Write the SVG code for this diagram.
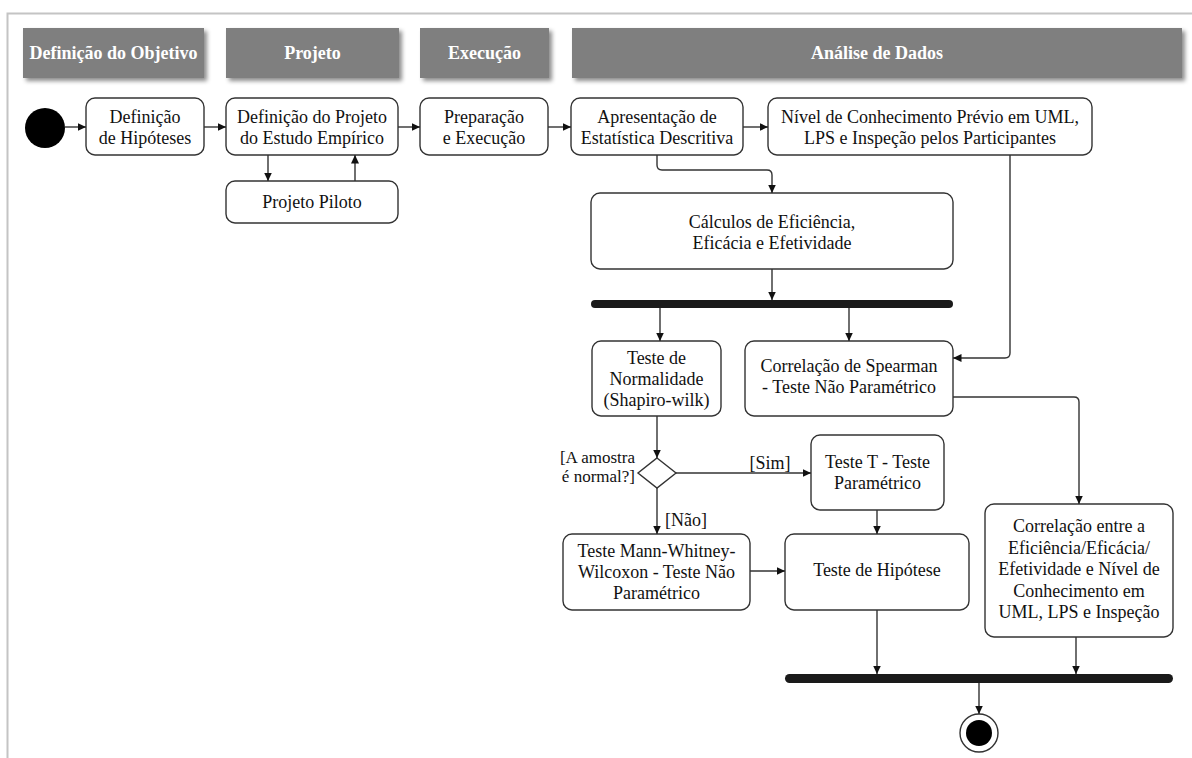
<svg xmlns="http://www.w3.org/2000/svg" width="1192" height="758" viewBox="0 0 1192 758">
  <style>
    .frame { stroke: #c4c4c4; stroke-width: 2; fill: none; }
    .hdr rect { fill: #7f7f7f; filter: url(#shadow); }
    .hdr text { fill: #ffffff; font-family: "Liberation Serif", "Times New Roman", serif; font-weight: bold; font-size: 18px; text-anchor: middle; }
    .node rect { fill: #ffffff; stroke: #333333; stroke-width: 1.4; }
    .node text, .lbl { fill: #111111; font-family: "Liberation Serif", "Times New Roman", serif; font-size: 18px; text-anchor: middle; }
    .lbl.small { font-size: 17px; }
    .bar { fill: #1a1a1a; }
    #connectors path { fill: none; stroke: #333333; stroke-width: 1.4; marker-end: url(#arrow); }
  </style>
  <defs>
    <filter id="shadow" x="-5%" y="-20%" width="115%" height="150%">
      <feDropShadow dx="3" dy="3" stdDeviation="2" flood-color="#000000" flood-opacity="0.45"/>
    </filter>
    <marker id="arrow" markerUnits="userSpaceOnUse" markerWidth="9" markerHeight="8" refX="8.5" refY="4" orient="auto">
      <path d="M0,0 L8.5,4 L0,8 z" fill="#111111"/>
    </marker>
  </defs>

  <rect width="1192" height="758" fill="#ffffff"/>
  <!-- frame -->
  <path class="frame" d="M7.5,758 V13.5 H1192"/>

  <!-- swimlane headers -->
  <g id="lane-objetivo" class="hdr">
    <rect x="23" y="28" width="181" height="50"/>
    <text x="113.5" y="59">Definição do Objetivo</text>
  </g>
  <g id="lane-projeto" class="hdr">
    <rect x="226" y="28" width="173" height="50"/>
    <text x="312.5" y="59">Projeto</text>
  </g>
  <g id="lane-execucao" class="hdr">
    <rect x="420" y="28" width="129" height="50"/>
    <text x="484.5" y="59">Execução</text>
  </g>
  <g id="lane-analise" class="hdr">
    <rect x="572" y="28" width="610" height="50"/>
    <text x="877" y="59">Análise de Dados</text>
  </g>

  <!-- start / end -->
  <g id="start">
    <circle cx="45" cy="128" r="20" fill="#000000"/>
  </g>
  <g id="end">
    <circle cx="979" cy="733" r="19" fill="#ffffff" stroke="#333333" stroke-width="1.4"/>
    <circle cx="979" cy="733" r="13" fill="#000000"/>
  </g>

  <!-- activities -->
  <g id="definicao-hipoteses" class="node">
    <rect x="86" y="98" width="118" height="57" rx="9"/>
    <text x="145" y="123">Definição</text>
    <text x="145" y="144">de Hipóteses</text>
  </g>
  <g id="definicao-projeto" class="node">
    <rect x="226" y="98" width="172" height="57" rx="9"/>
    <text x="312" y="123">Definição do Projeto</text>
    <text x="312" y="144">do Estudo Empírico</text>
  </g>
  <g id="projeto-piloto" class="node">
    <rect x="226" y="181" width="172" height="42" rx="9"/>
    <text x="312" y="208">Projeto Piloto</text>
  </g>
  <g id="preparacao-execucao" class="node">
    <rect x="420" y="98" width="128" height="57" rx="9"/>
    <text x="484" y="123">Preparação</text>
    <text x="484" y="144">e Execução</text>
  </g>
  <g id="estatistica-descritiva" class="node">
    <rect x="571" y="98" width="172" height="57" rx="9"/>
    <text x="657" y="123">Apresentação de</text>
    <text x="657" y="144">Estatística Descritiva</text>
  </g>
  <g id="conhecimento-previo" class="node">
    <rect x="768" y="98" width="324" height="57" rx="9"/>
    <text x="930" y="123">Nível de Conhecimento Prévio em UML,</text>
    <text x="930" y="144">LPS e Inspeção pelos Participantes</text>
  </g>
  <g id="calculos" class="node">
    <rect x="591" y="193" width="362" height="76" rx="9"/>
    <text x="772" y="228">Cálculos de Eficiência,</text>
    <text x="772" y="249">Eficácia e Efetividade</text>
  </g>
  <g id="fork">
    <rect class="bar" x="591" y="300" width="362" height="8" rx="4"/>
  </g>
  <g id="normalidade" class="node">
    <rect x="592" y="341" width="129" height="75" rx="9"/>
    <text x="656.5" y="364">Teste de</text>
    <text x="656.5" y="385">Normalidade</text>
    <text x="656.5" y="406">(Shapiro-wilk)</text>
  </g>
  <g id="spearman" class="node">
    <rect x="745" y="341" width="208" height="75" rx="9"/>
    <text x="849" y="372">Correlação de Spearman</text>
    <text x="849" y="393">- Teste Não Paramétrico</text>
  </g>
  <g id="decisao">
    <path d="M657,458 L676,473 L657,488 L638,473 Z" fill="#ffffff" stroke="#333333" stroke-width="1.4"/>
  </g>
  <g id="teste-t" class="node">
    <rect x="811" y="435" width="133" height="75" rx="9"/>
    <text x="877.5" y="468">Teste T - Teste</text>
    <text x="877.5" y="489">Paramétrico</text>
  </g>
  <g id="mann-whitney" class="node">
    <rect x="563" y="534" width="187" height="76" rx="9"/>
    <text x="656.5" y="557">Teste Mann-Whitney-</text>
    <text x="656.5" y="578">Wilcoxon - Teste Não</text>
    <text x="656.5" y="599">Paramétrico</text>
  </g>
  <g id="teste-hipotese" class="node">
    <rect x="785" y="534" width="184" height="76" rx="9"/>
    <text x="877" y="576">Teste de Hipótese</text>
  </g>
  <g id="correlacao-conhecimento" class="node">
    <rect x="985" y="504" width="188" height="133" rx="9"/>
    <text x="1079" y="532">Correlação entre a</text>
    <text x="1079" y="553.5">Eficiência/Eficácia/</text>
    <text x="1079" y="575">Efetividade e Nível de</text>
    <text x="1079" y="596.5">Conhecimento em</text>
    <text x="1079" y="618">UML, LPS e Inspeção</text>
  </g>
  <g id="join">
    <rect class="bar" x="785" y="674" width="388" height="9" rx="4.5"/>
  </g>

  <!-- connectors -->
  <g id="connectors">
    <path d="M65,127 H86"/>
    <path d="M204,127 H226"/>
    <path d="M398,127 H420"/>
    <path d="M548,127 H571"/>
    <path d="M743,127 H768"/>
    <path d="M268,155 V181"/>
    <path d="M355,181 V155"/>
    <path d="M657,155 V165 Q657,170 662,170 H767 Q772,170 772,175 V193"/>
    <path d="M772,269 V300"/>
    <path d="M660,308 V341"/>
    <path d="M849,308 V341"/>
    <path d="M1010,155 V353 Q1010,358 1005,358 H953"/>
    <path d="M953,397 H1074 Q1079,397 1079,402 V504"/>
    <path d="M657,416 V458"/>
    <path d="M676,473 H811"/>
    <path d="M657,488 V534"/>
    <path d="M877,510 V534"/>
    <path d="M750,571 H785"/>
    <path d="M877,610 V674"/>
    <path d="M1076,637 V674"/>
    <path d="M979,683 V714"/>
  </g>

  <!-- guard labels -->
  <g id="guards">
    <text class="lbl small" x="635" y="463" style="text-anchor:end">[A amostra</text>
    <text class="lbl small" x="635" y="482" style="text-anchor:end">é normal?]</text>
    <text class="lbl" x="770" y="469">[Sim]</text>
    <text class="lbl" x="665" y="526" style="text-anchor:start">[Não]</text>
  </g>
</svg>
